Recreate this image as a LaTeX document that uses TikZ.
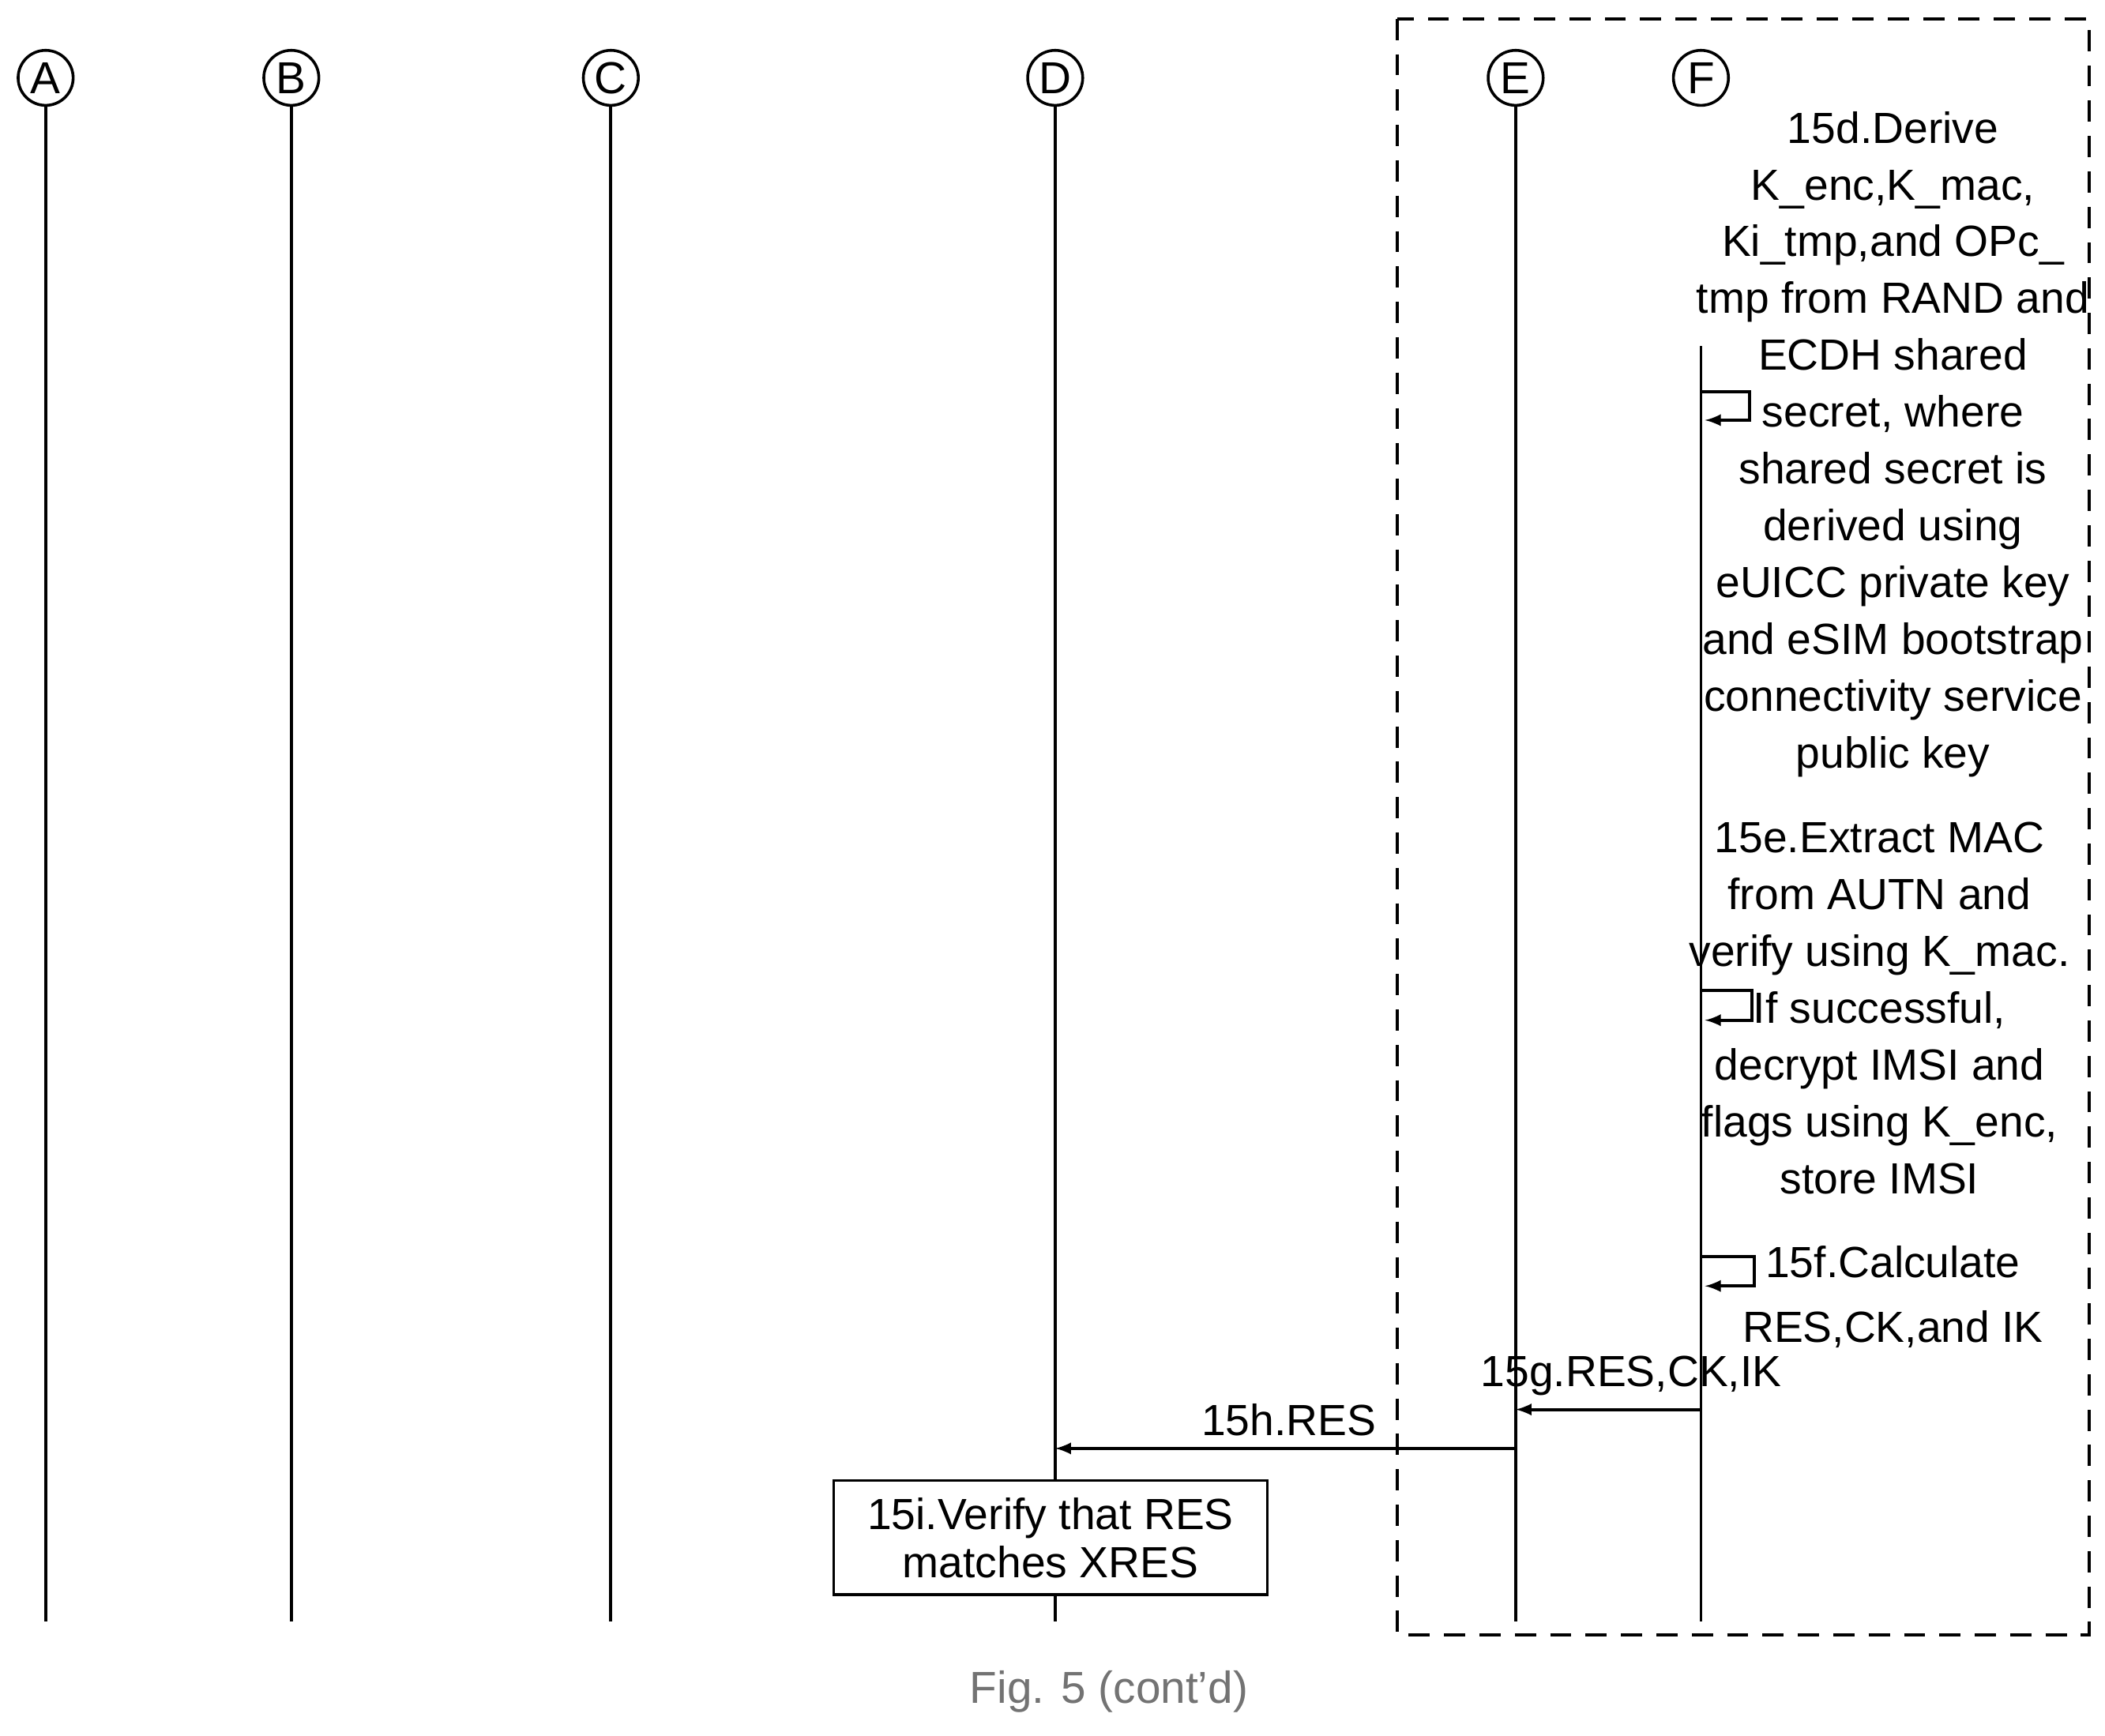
\documentclass[tikz,border=0pt]{standalone}
\usepackage{fontspec}
\setmainfont{Liberation Sans}
\begin{document}
\begin{tikzpicture}[x=0.02cm,y=-0.02cm,
  txt/.style={font=\fontsize{18.5}{24.1}\selectfont,align=center,inner sep=0pt},
  ent/.style={circle,draw,line width=1.2pt,minimum size=0.82cm,inner sep=0pt,font=\fontsize{19}{22}\selectfont},
  life/.style={line width=1.3pt},
  msg/.style={line width=1.3pt,-latex}]
\useasboundingbox (0,0) rectangle (1568,1293);
\foreach \n/\x in {A/34,B/217,C/455,D/786,E/1129,F/1267}{
  \node[ent] (\n) at (\x,58) {\n};
  \coordinate (\n b) at (\x,1208);
}
\draw[life] (A) -- (Ab); \draw[life] (B) -- (Bb); \draw[life] (C) -- (Cb);
\draw[life] (D) -- (Db); \draw[life] (E) -- (Eb);
\coordinate (Ft) at (1267,258);
\draw[life] (Ft) -- (Fb);
\draw[line width=1.3pt,dash pattern=on 9pt off 6pt] (1041,14) rectangle (1556,1218);
\node[txt] (t15d) at (1410,331) {15d.Derive\\K\_enc,K\_mac,\\Ki\_tmp,and OPc\_\\tmp from RAND and\\ECDH shared\\secret, where\\shared secret is\\derived using\\eUICC private key\\and eSIM bootstrap\\connectivity service\\public key};
\node[txt] (t15e) at (1400,751) {15e.Extract MAC\\from AUTN and\\verify using K\_mac.\\If successful,\\decrypt IMSI and\\flags using K\_enc,\\store IMSI};
\node[txt,font=\fontsize{18.5}{27.5}\selectfont] (t15f) at (1410,966) {15f.Calculate\\RES,CK,and IK};
\coordinate (l1a) at (1267,292); \coordinate (l1b) at (1270,313);
\draw[msg] (l1a) -- (1303,292) -- (1303,313) -- (l1b);
\coordinate (l2a) at (1267,738); \coordinate (l2b) at (1270,760);
\draw[msg] (l2a) -- (1305,738) -- (1305,760) -- (l2b);
\coordinate (l3a) at (1267,936); \coordinate (l3b) at (1270,958);
\draw[msg] (l3a) -- (1307,936) -- (1307,958) -- (l3b);
\coordinate (g1) at (1267,1050); \coordinate (g2) at (1129,1050);
\draw[msg] (g1) -- (g2);
\node[txt] (t15g) at (1215,1025) {15g.RES,CK,IK};
\coordinate (h1) at (1129,1079); \coordinate (h2) at (786,1079);
\draw[msg] (h1) -- (h2);
\node[txt] (t15h) at (960,1058) {15h.RES};
\node[txt,font=\fontsize{18.5}{20.5}\selectfont,draw,fill=white,line width=1.2pt,minimum width=6.46cm,minimum height=1.7cm] (t15i) at (782.5,1145.5) {15i.Verify that RES\\matches XRES};
\node[txt,text=black!55,font=\fontsize{19}{24}\selectfont] (cap) at (826,1260) {Fig. 5 (cont'd)};
\end{tikzpicture}
\end{document}
